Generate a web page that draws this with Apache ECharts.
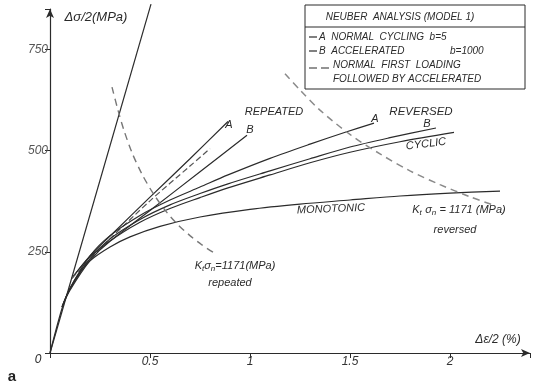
<!DOCTYPE html>
<html><head><meta charset="utf-8">
<script src="https://cdn.jsdelivr.net/npm/echarts@6/dist/echarts.min.js"></script>
<style>html,body{margin:0;padding:0;background:#fff}#c{width:534px;height:389px}</style>
</head><body><div id="c"></div>
<script>
// Data: [strain Δε/2 (%), stress Δσ/2 (MPa)]
const elastic = [[0,0],[0.505,862]];
const monotonic = [[0,0],[0.06,110],[0.1,160],[0.15,200],[0.2,228],[0.3,262],[0.4,287],[0.55,313],[0.75,336],[1.0,355],[1.25,368],[1.5,378],[1.75,388],[2.0,395],[2.25,400]];
const repeatedA = [[0.11,185],[0.2,240],[0.315,296],[0.5,385],[0.7,480],[0.89,572]];
const repeatedB = [[0.11,185],[0.2,238],[0.335,290],[0.5,352],[0.75,448],[0.985,538]];
const firstLoadAccel = [[0.11,185],[0.2,232],[0.3,282],[0.5,376],[0.7,462],[0.8,505]];
const reversedA = [[0.06,114],[0.1,160],[0.2,240],[0.3,290],[0.45,340],[0.6,378],[0.75,410],[0.89,440],[1.1,481],[1.3,516],[1.48,546],[1.62,568]];
const reversedB = [[0.06,114],[0.1,158],[0.2,233],[0.3,282],[0.45,330],[0.6,366],[0.75,394],[0.89,418],[1.1,450],[1.3,480],[1.5,509],[1.7,532],[1.93,556]];
const cyclic = [[0.06,114],[0.1,155],[0.2,228],[0.3,276],[0.45,323],[0.6,357],[0.75,384],[0.89,408],[1.1,440],[1.3,470],[1.5,496],[1.75,522],[2.02,545]];
const neuberRepeated = [[0.31,657],[0.34,600],[0.37,550],[0.41,495],[0.46,442],[0.515,395],[0.58,350],[0.64,317],[0.7,290],[0.76,267],[0.815,249]];
const neuberReversed = [[1.175,690],[1.25,650],[1.35,600],[1.5,540],[1.65,492],[1.8,450],[1.95,416],[2.1,386],[2.215,366]];
const xTicks = [0.5,1,1.5,2];
const yTicks = [250,500,750];

const ink = '#2b2b2b';
const font = 'Liberation Sans';
function ln(data, opts){
  return Object.assign({type:'line', data, showSymbol:false, symbol:'none', smooth:0.3, clip:false,
    lineStyle:{color:ink, width:1.2}, silent:true, animation:false}, opts||{});
}
const chart = echarts.init(document.getElementById('c'));
const t = (x,y,text,o) => Object.assign({type:'text', x, y, style:Object.assign({text, fill:ink, font:'italic 11px '+font, align:'center', verticalAlign:'middle'}, o||{})});
chart.setOption({
  animation:false,
  grid:{left:50, right:4, top:9, bottom:36},
  xAxis:{type:'value', min:0, max:2.4, interval:0.5,
    axisLine:{lineStyle:{color:ink, width:1.2}, symbol:['none','arrow'], symbolSize:[6,9]},
    axisTick:{show:true, length:5, lineStyle:{color:ink}},
    splitLine:{show:false},
    axisLabel:{margin:3, color:'#333', fontStyle:'italic', fontFamily:font, fontSize:12,
      formatter: v => xTicks.indexOf(v) >= 0 ? String(v) : ''}},
  yAxis:{type:'value', min:0, max:850, interval:250,
    axisLine:{lineStyle:{color:ink, width:1.2}, symbol:['none','arrow'], symbolSize:[6,9]},
    axisTick:{show:true, length:5, lineStyle:{color:ink}},
    splitLine:{show:false},
    axisLabel:{margin:2, color:'#555', fontStyle:'italic', fontFamily:font, fontSize:12,
      formatter: v => yTicks.indexOf(v) >= 0 ? String(v) : ''}},
  series:[
    ln(elastic,{smooth:false}),
    ln(monotonic),
    ln(repeatedA),
    ln(repeatedB),
    ln(firstLoadAccel,{lineStyle:{color:'#555', width:1.2, type:[6,3]}}),
    ln(reversedA),
    ln(reversedB),
    ln(cyclic),
    ln(neuberRepeated,{lineStyle:{color:'#777', width:1.4, type:[7,5]}}),
    ln(neuberReversed,{lineStyle:{color:'#8a8a8a', width:1.5, type:[7,5]}})
  ],
  graphic:[
    t(96,17,'Δσ/2(MPa)',{font:'italic 13px '+font}),
    t(38,360,'0',{font:'italic 12px '+font}),
    t(12,377,'a',{font:'bold 15px '+font, fill:'#222'}),
    t(498,340,'Δε/2 (%)',{font:'italic 12px '+font}),
    // legend box
    {type:'rect', shape:{x:305,y:5,width:220,height:84}, style:{fill:'none', stroke:ink, lineWidth:1}},
    {type:'line', shape:{x1:305,y1:27,x2:525,y2:27}, style:{stroke:ink, lineWidth:1}},
    t(400,17,'NEUBER  ANALYSIS (MODEL 1)',{font:'italic 10px '+font}),
    {type:'line', shape:{x1:309,y1:37,x2:317,y2:37}, style:{stroke:ink, lineWidth:1.2}},
    t(319,37,'A  NORMAL  CYCLING  b=5',{font:'italic 10px '+font, align:'left'}),
    {type:'line', shape:{x1:309,y1:51,x2:317,y2:51}, style:{stroke:ink, lineWidth:1.2}},
    t(319,51,'B  ACCELERATED',{font:'italic 10px '+font, align:'left'}),
    t(450,51,'b=1000',{font:'italic 10px '+font, align:'left'}),
    {type:'line', shape:{x1:309,y1:68,x2:332,y2:68}, style:{stroke:ink, lineWidth:1.2, lineDash:[8,4]}},
    t(333,65,'NORMAL  FIRST  LOADING',{font:'italic 10px '+font, align:'left'}),
    t(333,79,'FOLLOWED BY ACCELERATED',{font:'italic 10px '+font, align:'left'}),
    // curve labels
    t(274,112,'REPEATED'),
    t(229,125,'A'),
    t(250,130,'B'),
    t(421,112,'REVERSED',{font:'italic 11.5px '+font}),
    t(375,119,'A'),
    t(427,124,'B'),
    Object.assign(t(426,144,'CYCLIC'),{rotation:0.12}),
    Object.assign(t(331,209,'MONOTONIC'),{rotation:0.04}),
    {type:'text', x:459, y:210, style:{text:'{m|K}{s|t} {m|σ}{s|n} {m|= 1171 (MPa)}', align:'center', verticalAlign:'middle', fill:ink,
      rich:{m:{font:'italic 11px '+font, fill:ink}, s:{font:'italic 8px '+font, fill:ink, padding:[5,0,0,0]}}}},
    t(455,230,'reversed'),
    {type:'text', x:235,y:266, style:{text:'{m|K}{s|t}{m|σ}{s|n}{m|=1171(MPa)}', align:'center', verticalAlign:'middle', fill:ink,
      rich:{m:{font:'italic 11px '+font, fill:ink}, s:{font:'italic 8px '+font, fill:ink, padding:[5,0,0,0]}}}},
    t(230,283,'repeated')
  ]
});
</script></body></html>
